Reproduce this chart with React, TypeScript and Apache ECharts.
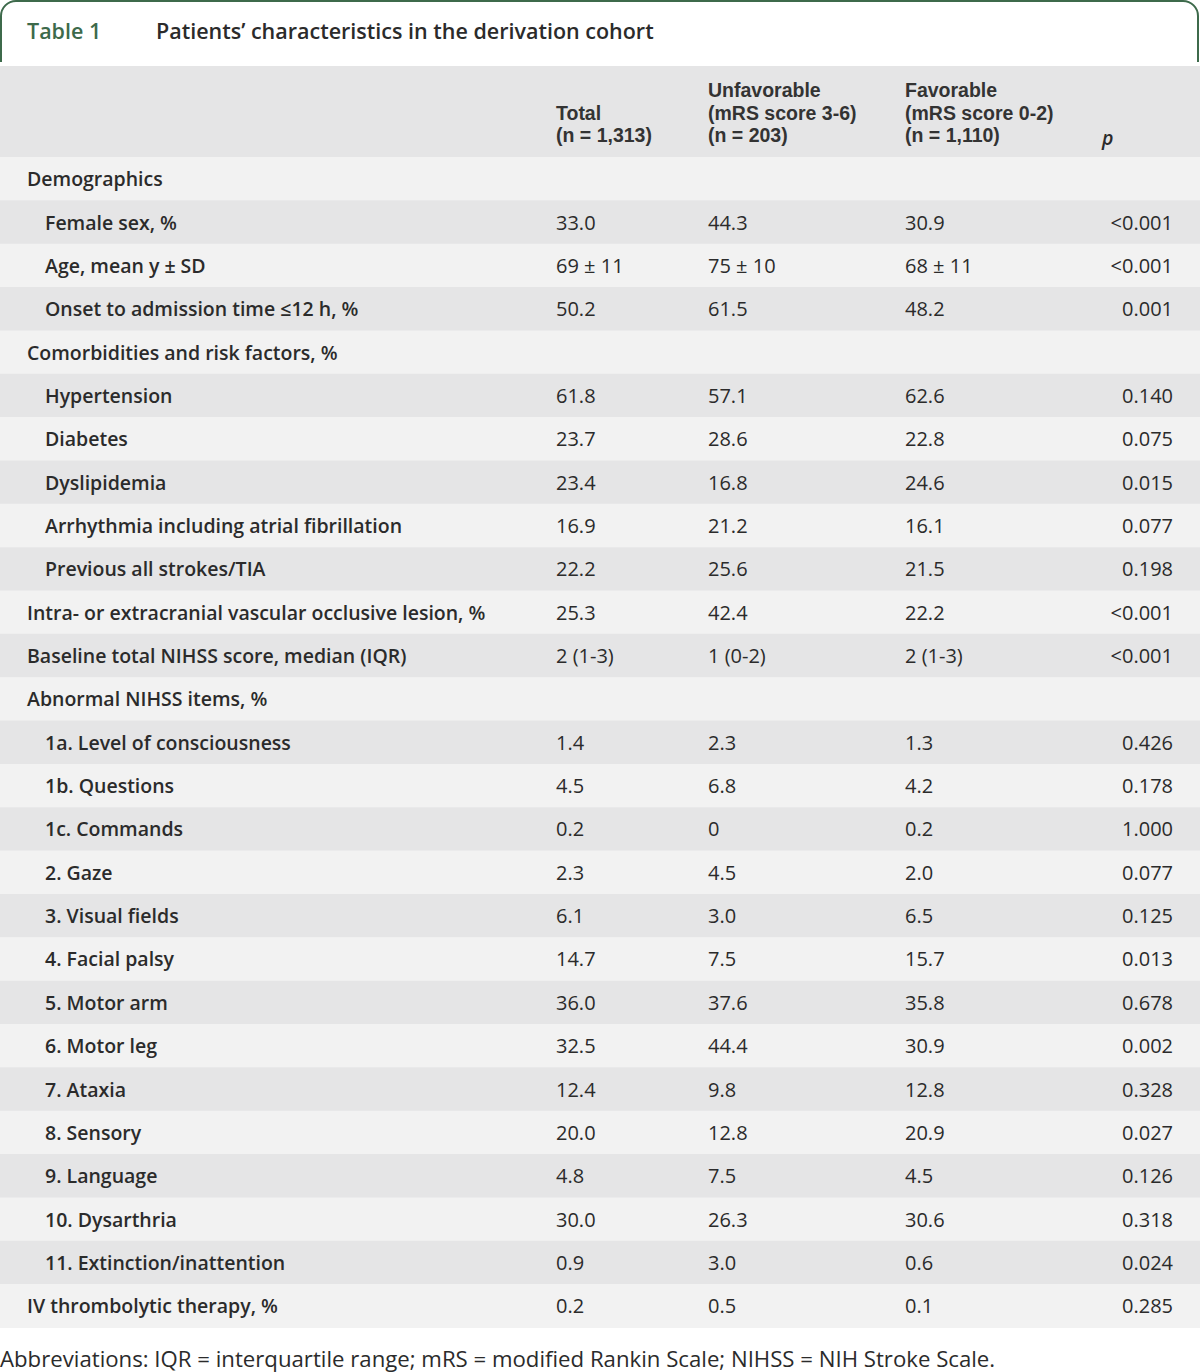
import React, { useEffect, useRef } from "react";
import * as echarts from "echarts";

const titleLabel = "Table 1";
const titleText = "Patients’ characteristics in the derivation cohort";
const columnHeaders = [
  ["Total", "(n = 1,313)"],
  ["Unfavorable", "(mRS score 3-6)", "(n = 203)"],
  ["Favorable", "(mRS score 0-2)", "(n = 1,110)"],
];
const pHeader = "p";

const rowLabels = [
  "Demographics",
  "Female sex, %",
  "Age, mean y ± SD",
  "Onset to admission time ≤12 h, %",
  "Comorbidities and risk factors, %",
  "Hypertension",
  "Diabetes",
  "Dyslipidemia",
  "Arrhythmia including atrial fibrillation",
  "Previous all strokes/TIA",
  "Intra- or extracranial vascular occlusive lesion, %",
  "Baseline total NIHSS score, median (IQR)",
  "Abnormal NIHSS items, %",
  "1a. Level of consciousness",
  "1b. Questions",
  "1c. Commands",
  "2. Gaze",
  "3. Visual fields",
  "4. Facial palsy",
  "5. Motor arm",
  "6. Motor leg",
  "7. Ataxia",
  "8. Sensory",
  "9. Language",
  "10. Dysarthria",
  "11. Extinction/inattention",
  "IV thrombolytic therapy, %",
];
const rowIndented = [
  false, true, true, true, false, true, true, true, true, true, false, false, false,
  true, true, true, true, true, true, true, true, true, true, true, true, true, false,
];
const totalValues = [
  "", "33.0", "69 ± 11", "50.2", "", "61.8", "23.7", "23.4", "16.9", "22.2", "25.3", "2 (1-3)", "",
  "1.4", "4.5", "0.2", "2.3", "6.1", "14.7", "36.0", "32.5", "12.4", "20.0", "4.8", "30.0", "0.9", "0.2",
];
const unfavorableValues = [
  "", "44.3", "75 ± 10", "61.5", "", "57.1", "28.6", "16.8", "21.2", "25.6", "42.4", "1 (0-2)", "",
  "2.3", "6.8", "0", "4.5", "3.0", "7.5", "37.6", "44.4", "9.8", "12.8", "7.5", "26.3", "3.0", "0.5",
];
const favorableValues = [
  "", "30.9", "68 ± 11", "48.2", "", "62.6", "22.8", "24.6", "16.1", "21.5", "22.2", "2 (1-3)", "",
  "1.3", "4.2", "0.2", "2.0", "6.5", "15.7", "35.8", "30.9", "12.8", "20.9", "4.5", "30.6", "0.6", "0.1",
];
const pValues = [
  "", "<0.001", "<0.001", "0.001", "", "0.140", "0.075", "0.015", "0.077", "0.198", "<0.001", "<0.001", "",
  "0.426", "0.178", "1.000", "0.077", "0.125", "0.013", "0.678", "0.002", "0.328", "0.027", "0.126", "0.318", "0.024", "0.285",
];
const footnote =
  "Abbreviations: IQR = interquartile range; mRS = modified Rankin Scale; NIHSS = NIH Stroke Scale.";

const W = 1200;
const H = 1372;
const FONT = "'Open Sans', Roboto, sans-serif";
const HEAD_FONT = "'Liberation Sans', Arial, sans-serif";
const GREEN = "#3d6a4b";
const TEXT = "#2b2b2b";
const DARK = "#e5e5e6";
const LIGHT = "#f2f2f2";

export default function App() {
  const ref = useRef<HTMLDivElement>(null);
  useEffect(() => {
    if (!ref.current) return;
    const chart = echarts.init(ref.current, undefined, { renderer: "svg", width: W, height: H });
    const els: any[] = [];
    // frame
    els.push({
      type: "rect",
      shape: { x: 1, y: 1, width: 1197, height: 80, r: [15, 15, 0, 0] },
      style: { fill: "#fff", stroke: GREEN, lineWidth: 2 },
    });
    els.push({ type: "rect", shape: { x: 0, y: 62, width: W, height: 30 }, style: { fill: "#fff" } });
    els.push({
      type: "text",
      x: 27, y: 30,
      style: { text: titleLabel, fill: GREEN, font: `600 21.5px ${FONT}`, verticalAlign: "middle" },
    });
    els.push({
      type: "text",
      x: 156, y: 30,
      style: { text: titleText, fill: TEXT, font: `600 21.5px ${FONT}`, verticalAlign: "middle" },
    });
    // header
    const headTop = 66;
    const headBottom = 157;
    els.push({ type: "rect", shape: { x: 0, y: headTop, width: W, height: headBottom - headTop }, style: { fill: DARK } });
    const colX = [556, 708, 905];
    const headLine = 22.5;
    columnHeaders.forEach((lines, ci) => {
      const n = lines.length;
      lines.forEach((ln, li) => {
        els.push({
          type: "text",
          x: colX[ci],
          y: 135 - (n - 1 - li) * headLine,
          style: {
            text: ln,
            fill: "#333",
            font: `700 19.5px ${HEAD_FONT}`,
            lineHeight: 21,
            verticalAlign: "middle",
          },
        });
      });
    });
    els.push({
      type: "text",
      x: 1102, y: 137,
      style: { text: pHeader, fill: TEXT, font: `italic 600 19.5px ${FONT}`, verticalAlign: "middle" },
    });
    // rows
    const rowH = 43.35;
    const firstTop = headBottom;
    rowLabels.forEach((label, i) => {
      const top = firstTop + i * rowH;
      const cy = top + rowH / 2;
      els.push({
        type: "rect",
        shape: { x: 0, y: top, width: W, height: rowH + 0.5 },
        style: { fill: i % 2 === 0 ? LIGHT : DARK },
      });
      els.push({
        type: "text",
        x: rowIndented[i] ? 45 : 27,
        y: cy,
        style: { text: label, fill: TEXT, font: `600 19.5px ${FONT}`, verticalAlign: "middle" },
      });
      [totalValues[i], unfavorableValues[i], favorableValues[i]].forEach((v, ci) => {
        if (!v) return;
        els.push({
          type: "text",
          x: colX[ci],
          y: cy,
          style: { text: v, fill: TEXT, font: `400 20px ${FONT}`, verticalAlign: "middle" },
        });
      });
      if (pValues[i]) {
        els.push({
          type: "text",
          x: 1173,
          y: cy,
          style: { text: pValues[i], fill: TEXT, font: `400 20px ${FONT}`, align: "right", verticalAlign: "middle" },
        });
      }
    });
    els.push({
      type: "text",
      x: 0, y: 1358,
      style: { text: footnote, fill: TEXT, font: `400 22.2px ${FONT}`, lineHeight: 24, verticalAlign: "middle" },
    });
    chart.setOption({ animation: false, graphic: { elements: els } });
    return () => chart.dispose();
  }, []);
  return (
    <div
      ref={ref}
      style={{ position: "absolute", left: 0, top: 0, width: W, height: H, background: "#fff" }}
    />
  );
}
